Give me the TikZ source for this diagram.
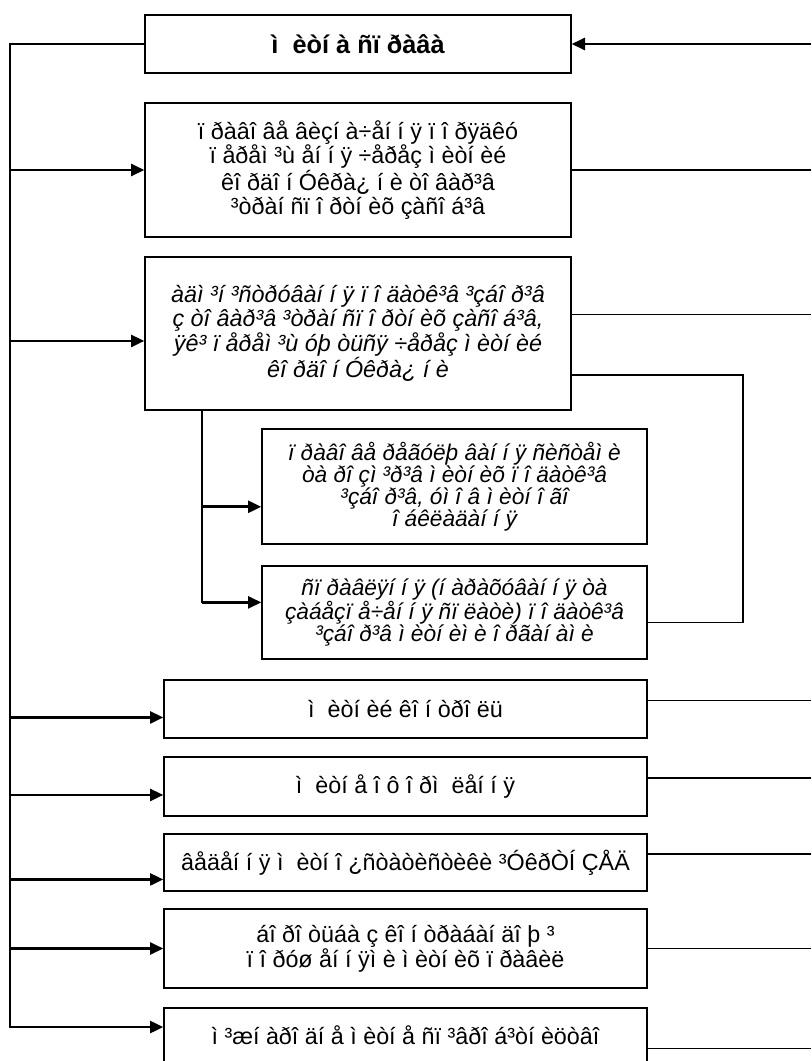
\documentclass[tikz,border=0pt]{standalone}
\usepackage{fontspec}
\setmainfont{Liberation Sans}
\usetikzlibrary{arrows.meta}

\begin{document}
\begin{tikzpicture}[x=0.75pt, y=-0.75pt,
  box/.style={draw, line width=1pt, fill=white, align=center, inner sep=2pt,
              font=\fontsize{17.5}{18.5}\selectfont},
  ibox/.style={box, font=\fontsize{17.5}{17.5}\selectfont\itshape},
  arr/.style={-{Triangle[length=10pt, width=9pt]}, line width=2pt},
  ln/.style={line width=0.9pt}
]
\useasboundingbox (0,0) rectangle (811,1061);

\node[box, minimum width=319.5pt, minimum height=43.5pt,
      font=\fontsize{19}{20}\selectfont\bfseries] (sprava)
      at (358,44) {ì\ \ èòí à ñï ðàâà};
\node[box, minimum width=319.5pt, minimum height=100.5pt] (pravo)
      at (358,170) {ï ðàâî âå âèçí à÷åí í ÿ ï î ðÿäêó\\
                    ï åðåì ³ù åí í ÿ ÷åðåç ì èòí èé\\
                    êî ðäî í Óêðà¿ í è òî âàð³â\\
                    ³òðàí ñï î ðòí èõ çàñî á³â};
\node[ibox, minimum width=319.5pt, minimum height=114.75pt] (admin)
      at (358,333.5) {àäì ³í ³ñòðóâàí í ÿ ï î äàòê³â ³çáî ð³â\\
                      ç òî âàð³â ³òðàí ñï î ðòí èõ çàñî á³â,\\
                      ÿê³ ï åðåì ³ù óþ òüñÿ ÷åðåç ì èòí èé\\
                      êî ðäî í Óêðà¿ í è};
\node[ibox, minimum width=288.75pt, minimum height=86.25pt,
      font=\fontsize{17}{16.5}\selectfont\itshape] (reg)
      at (454.5,486.5) {ï ðàâî âå ðåãóëþ âàí í ÿ ñèñòåì è\\
                        òà ðî çì ³ð³â ì èòí èõ ï î äàòê³â\\
                        ³çáî ð³â, óì î â ì èòí î ãî\\
                        î áêëàäàí í ÿ};
\node[ibox, minimum width=288.75pt, minimum height=69.75pt,
      font=\fontsize{17}{16.5}\selectfont\itshape] (sprav)
      at (454.5,612.5) {ñï ðàâëÿí í ÿ (í àðàõóâàí í ÿ òà\\
                        çàáåçï å÷åí í ÿ ñï ëàòè) ï î äàòê³â\\
                        ³çáî ð³â ì èòí èì è î ðãàí àì è};
\node[box, minimum width=362.25pt, minimum height=43.5pt] (kontr)
      at (405.5,709) {ì\ \ èòí èé êî í òðî ëü};
\node[box, minimum width=362.25pt, minimum height=44.25pt] (oform)
      at (405.5,786.5) {ì\ \ èòí å î ô î ðì\ \ ëåí í ÿ};
\node[box, minimum width=362.25pt, minimum height=42.75pt] (stat)
      at (405.5,862.5) {âåäåí í ÿ ì\ \ èòí î ¿ñòàòèñòèêè ³ÓêðÒÍ ÇÅÄ};
\node[box, minimum width=362.25pt, minimum height=59.25pt] (borot)
      at (405.5,948.5) {áî ðî òüáà ç êî í òðàáàí äî þ ³\\
                        ï î ðóø åí í ÿì è ì èòí èõ ï ðàâèë};
\node[box, minimum width=362.25pt, minimum height=41.25pt] (spivr)
      at (405.5,1035.5) {ì ³æí àðî äí å ì èòí å ñï ³âðî á³òí èöòâî};

\coordinate (lt) at (10,44);
\coordinate (lb) at (10,1028);
\coordinate (sub) at (202,603);
\coordinate (brk) at (743,500);
\coordinate (rin) at (765,44);
\coordinate (redge) at (811,44);

% left bus
\draw[ln] (sprava.west) -- (lt) -- (lb);
\draw[arr] (lt |- pravo.west) -- (pravo.west);
\draw[arr] (lt |- admin.182) -- (admin.182);
\draw[arr] (lt |- kontr.182) -- (kontr.182);
\draw[arr] (lt |- oform.182) -- (oform.182);
\draw[arr] (lt |- stat.184) -- (stat.184);
\draw[arr] (lt |- borot.west) -- (borot.west);
\draw[arr] (lt |- spivr.178) -- (spivr.178);

% branch under admin
\draw[ln] (sub |- admin.south) -- (sub);
\draw[arr] (sub |- reg.186) -- (reg.186);
\draw[arr] (sub |- sprav.177) -- (sprav.177);

% right side
\draw[ln] (redge) -- (rin);
\draw[arr] (rin) -- (sprava.east);
\draw[ln] (pravo.east) -- (pravo.east -| redge);
\draw[ln] (admin.5) -- (admin.5 -| redge);
\draw[ln] (admin.349) -| (brk) |- (sprav.357);
\draw[ln] (kontr.2) -- (kontr.2 -| redge);
\draw[ln] (oform.2.5) -- (oform.2.5 -| redge);
\draw[ln] (stat.2) -- (stat.2 -| redge);
\draw[ln] (borot.east) -- (borot.east -| redge);
\draw[ln] (spivr.357) -- (spivr.357 -| redge);
\end{tikzpicture}
\end{document}
